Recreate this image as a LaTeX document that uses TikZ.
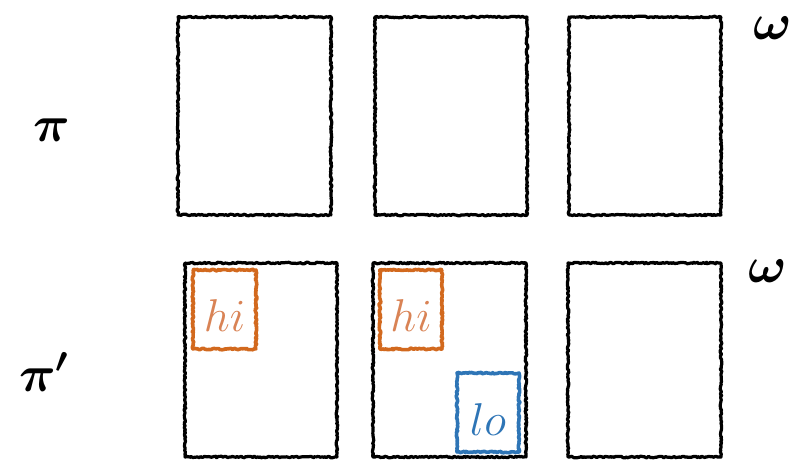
\RequirePackage{fix-cm}
\documentclass[tikz,border=0pt]{standalone}
\usepackage{bm}
\usetikzlibrary{decorations.pathmorphing}
\definecolor{hiorange}{HTML}{D2691E}
\definecolor{hitext}{HTML}{D98355}
\definecolor{loblue}{HTML}{2E75B6}
\begin{document}
\begin{tikzpicture}[x=1pt,y=-1pt,
  rough/.style={decorate,decoration={random steps,segment length=1.5pt,amplitude=0.8pt},line join=round},
  cell/.style={draw=black,line width=3.2pt,rough},
  tag/.style={line width=3.6pt,rough},
  lbl/.style={inner sep=0pt,font=\fontsize{46}{50}\selectfont},
  big/.style={inner sep=0pt,font=\fontsize{51}{55}\selectfont}]
\useasboundingbox (0,0) rectangle (803,459);
% top row
\draw[cell] (178,17) -- (331,17) -- (331,215) -- (178,215) -- cycle;
\draw[cell] (375,17) -- (527,17) -- (527,215) -- (375,215) -- cycle;
\draw[cell] (569,17) -- (721,17) -- (721,215) -- (569,215) -- cycle;
% bottom row
\draw[cell] (185,263) -- (337,263) -- (337,457) -- (185,457) -- cycle;
\draw[cell] (373,263) -- (526,263) -- (526,457) -- (373,457) -- cycle;
\draw[cell] (568,263) -- (721,263) -- (721,457) -- (568,457) -- cycle;
% tags
\draw[tag,draw=hiorange] (193,270) -- (256,270) -- (256,349) -- (193,349) -- cycle;
\node[lbl,text=hitext] (hi1) at (224.5,316) {$hi$};
\draw[tag,draw=hiorange] (380,270) -- (442,270) -- (442,349) -- (380,349) -- cycle;
\node[lbl,text=hitext] (hi2) at (411,316) {$hi$};
\draw[tag,draw=loblue] (457,373) -- (519,373) -- (519,452) -- (457,452) -- cycle;
\node[lbl,text=loblue] (lo) at (488,420) {$lo$};
% labels
\node[big] (pi) at (52,130) {$\bm{\pi}$};
\node[big] (pip) at (44,372) {$\bm{\pi'}$};
\node[big] (w1) at (773,28) {$\bm{\omega}$};
\node[big] (w2) at (768,271) {$\bm{\omega}$};
\end{tikzpicture}
\end{document}
